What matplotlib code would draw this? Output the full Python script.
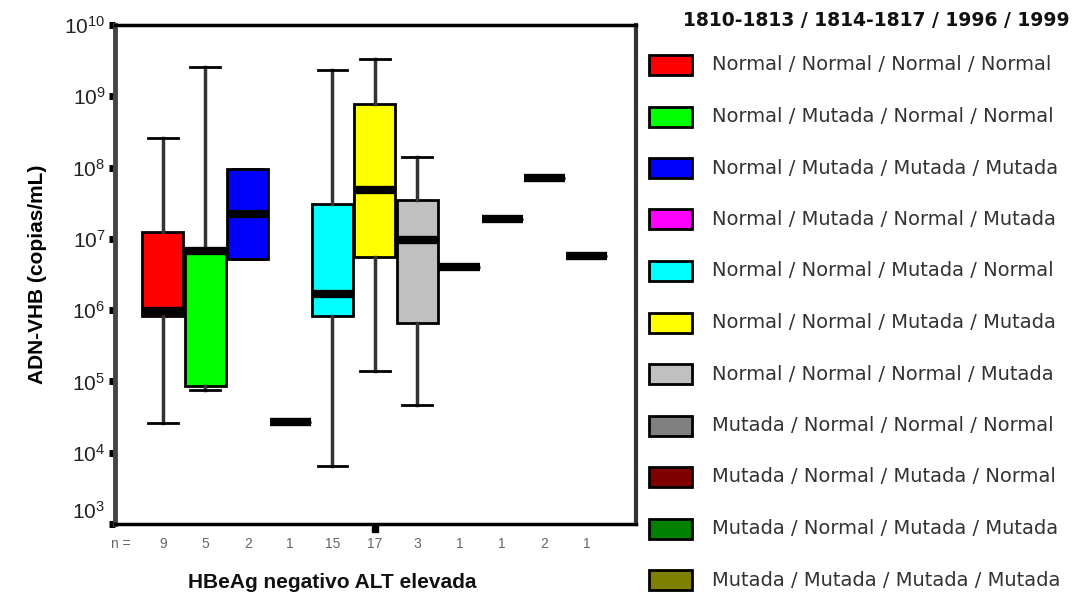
import matplotlib
matplotlib.use("Agg")
import matplotlib.pyplot as plt
import matplotlib.transforms as mtransforms
from matplotlib.patches import Rectangle

plt.rcParams['font.family'] = ['Liberation Sans', 'DejaVu Sans']

# Viral load per genotype pattern (copias/mL)
n_counts = [9, 5, 2, 1, 15, 17, 3, 1, 1, 2, 1]
whis_lo = [2.6e4, 7.5e4, 5.3e6, 2.7e4, 6.5e3, 1.39e5, 4.6e4, 4.0e6, 1.92e7, 7.2e7, 5.8e6]
q1 = [8.4e5, 8.6e4, 5.3e6, 2.7e4, 8.2e5, 5.5e6, 6.7e5, 4.0e6, 1.92e7, 7.2e7, 5.8e6]
medians = [9.6e5, 6.8e6, 2.2e7, 2.7e4, 1.7e6, 4.9e7, 9.5e6, 4.0e6, 1.92e7, 7.2e7, 5.8e6]
q3 = [1.26e7, 7.5e6, 9.6e7, 2.7e4, 3.1e7, 7.8e8, 3.55e7, 4.0e6, 1.92e7, 7.2e7, 5.8e6]
whis_hi = [2.6e8, 2.58e9, 9.6e7, 2.7e4, 2.34e9, 3.3e9, 1.42e8, 4.0e6, 1.92e7, 7.2e7, 5.8e6]
outliers = [[], [], [], [], [], [8.5e2], [], [], [], [], []]

colors = ['#FF0000', '#00FF00', '#0000FF', '#FF00FF', '#00FFFF', '#FFFF00',
          '#C0C0C0', '#808080', '#800000', '#008000', '#808000']
labels = ['Normal / Normal / Normal / Normal',
          'Normal / Mutada / Normal / Normal',
          'Normal / Mutada / Mutada / Mutada',
          'Normal / Mutada / Normal / Mutada',
          'Normal / Normal / Mutada / Normal',
          'Normal / Normal / Mutada / Mutada',
          'Normal / Normal / Normal / Mutada',
          'Mutada / Normal / Normal / Normal',
          'Mutada / Normal / Mutada / Normal',
          'Mutada / Normal / Mutada / Mutada',
          'Mutada / Mutada / Mutada / Mutada']
legend_title = '1810-1813 / 1814-1817 / 1996 / 1999'

positions = list(range(1, len(n_counts) + 1))

stats = []
for i in range(len(n_counts)):
    stats.append(dict(whislo=whis_lo[i], q1=q1[i], med=medians[i], q3=q3[i],
                      whishi=whis_hi[i], fliers=[]))

fig = plt.figure(figsize=(10.74, 5.96), dpi=100)
ax = fig.add_axes([0.1071, 0.1208, 0.4851, 0.8372])

bp = ax.bxp(stats, positions=positions, widths=0.97, patch_artist=True,
            showfliers=False,
            boxprops=dict(edgecolor='black', linewidth=2),
            medianprops=dict(color='black', linewidth=6, solid_capstyle='butt'),
            whiskerprops=dict(color='#333333', linewidth=2.5),
            capprops=dict(color='black', linewidth=2),
            capwidths=0.7)
for box, c in zip(bp['boxes'], colors):
    box.set_facecolor(c)

# Outlying values below the axis range
for p, vals in zip(positions, outliers):
    if vals:
        ax.plot([p] * len(vals), vals, 's', color='black', markersize=4, clip_on=False)

ax.set_yscale('log')
ax.set_ylim(1e3, 1e10)
ax.set_xlim(-0.13, 12.16)
ax.set_xticks([])
ax.set_yticks([10.0 ** k for k in range(3, 11)])
ax.yaxis.set_minor_locator(matplotlib.ticker.NullLocator())
ax.tick_params(axis='y', direction='out', length=4, width=5, color='black',
               labelsize=15, labelcolor='#222222', pad=3)

# lift the lowest decade label off the corner
lift = mtransforms.ScaledTranslation(0, 14 / 100, fig.dpi_scale_trans)
low_tick = ax.yaxis.get_major_ticks()[0]
low_tick.label1.set_transform(low_tick.label1.get_transform() + lift)

for side in ['top', 'bottom']:
    ax.spines[side].set_linewidth(2.5)
    ax.spines[side].set_color('black')
ax.spines['left'].set_linewidth(3.5)
ax.spines['left'].set_color('#444444')
ax.spines['right'].set_linewidth(3)
ax.spines['right'].set_color('#333333')

# Group sizes under the axis
ax.text(0.0, -0.04, 'n =', transform=ax.get_xaxis_transform(), ha='center',
        va='center', fontsize=10, color='#666666')
for p, n in zip(positions, n_counts):
    ax.text(p, -0.04, str(n), transform=ax.get_xaxis_transform(), ha='center',
            va='center', fontsize=10, color='#666666')

ax.set_ylabel('ADN-VHB (copias/mL)', fontsize=15, fontweight='bold', labelpad=12)
fig.text(332 / 1074, 1 - 583 / 596, 'HBeAg negativo ALT elevada', ha='center',
         va='center', fontsize=15, fontweight='bold', color='#111111')

# Legend drawn by hand on the right
fig.text(1070 / 1074, 1 - 20 / 596, legend_title, ha='right', va='center',
         fontsize=13.5, fontweight='bold', color='#111111', family='DejaVu Sans')
for i, (c, lab) in enumerate(zip(colors, labels)):
    yc = 65 + 51.5 * i
    fig.patches.append(Rectangle((649 / 1074, 1 - (yc + 10) / 596), 43 / 1074, 20 / 596,
                                 transform=fig.transFigure, facecolor=c,
                                 edgecolor='black', linewidth=2))
    fig.text(712 / 1074, 1 - yc / 596, lab, ha='left', va='center',
             fontsize=14, color='#333333', family='DejaVu Sans')

fig.savefig('out.png', dpi=100)
